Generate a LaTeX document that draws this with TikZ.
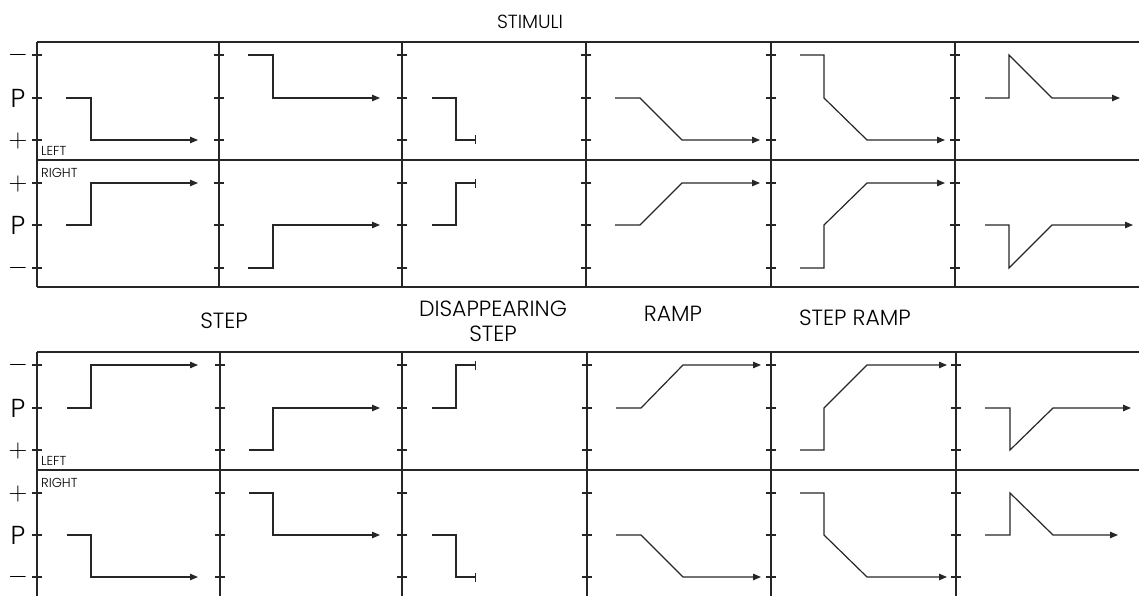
\documentclass[tikz,border=0pt]{standalone}
\usepackage{fix-cm}
\usepackage{fontspec}
\setmainfont{Poppins}[UprightFont=* Light]
\usetikzlibrary{arrows.meta}
\tikzset{
  grid/.style={line width=1.3pt, draw=black!85},
  tick/.style={line width=1.1pt, draw=black!85},
  sig/.style={line width=1.2pt, draw=black!85, line join=miter},
  arr/.style={sig, -{Triangle[length=8pt,width=6.5pt]}},
  barend/.style={sig, -{Bar[width=9pt]}},
  title/.style={inner sep=0pt, font=\fontsize{22}{22}\selectfont},
  axis/.style={inner sep=0pt, font=\fontsize{26}{28}\selectfont},
  side/.style={inner sep=0pt, anchor=west, font=\fontsize{13}{14}\selectfont}
}
\begin{document}
\begin{tikzpicture}[x=1pt,y=-1pt]
\useasboundingbox (0,0) rectangle (1139,596);
% ---------- top grid ----------
\foreach \yy in {42,160,287} \draw[grid] (37,\yy) -- (1139,\yy);
\foreach \xx in {37,219,402,586,771,955} {
  \draw[grid] (\xx,42) -- (\xx,287);
  \foreach \yy in {55,98,140,183,225,268} \draw[tick] (\xx-5,\yy) -- (\xx+5,\yy);
}
% ---------- bottom grid ----------
\foreach \yy in {352,470} \draw[grid] (37,\yy) -- (1139,\yy);
\foreach \xx in {37,220,402,587,771,956} {
  \draw[grid] (\xx,352) -- (\xx,596);
  \foreach \yy in {365,408,450,493,535,577} \draw[tick] (\xx-5,\yy) -- (\xx+5,\yy);
}
% ---------- titles ----------
\node[title, font=\fontsize{19}{21}\selectfont] (stim) at (530,22) {STIMULI};
\node[title] (tstep) at (224,321) {STEP};
\node[title, align=center, font=\fontsize{22}{25}\selectfont] (tdis) at (493,321) {DISAPPEARING\\STEP};
\node[title] (tramp) at (673,314) {RAMP};
\node[title] (tsramp) at (855,318) {STEP RAMP};
% ---------- axis labels ----------
\node[axis] (am1) at (18,55) {$-$};
\node[axis] (ap1) at (18,98) {P};
\node[axis] (apl1) at (18,141) {$+$};
\node[axis] (apl2) at (18,184) {$+$};
\node[axis] (ap2) at (18,225) {P};
\node[axis] (am2) at (18,268) {$-$};
\node[axis] (am3) at (18,365) {$-$};
\node[axis] (ap3) at (18,408) {P};
\node[axis] (apl3) at (18,451) {$+$};
\node[axis] (apl4) at (18,494) {$+$};
\node[axis] (ap4) at (18,535) {P};
\node[axis] (am4) at (18,577) {$-$};
\node[side] (left1) at (41,151) {LEFT};
\node[side] (right1) at (41,173) {RIGHT};
\node[side] (left2) at (41,461) {LEFT};
\node[side] (right2) at (41,483) {RIGHT};
% ---------- top grid signals ----------
\draw[arr] (66,98) -- (91,98) -- (91,140) -- (198,140);
\draw[arr] (66,225) -- (91,225) -- (91,183) -- (198,183);
\draw[arr] (248,55) -- (273,55) -- (273,98) -- (380,98);
\draw[arr] (248,268) -- (273,268) -- (273,225) -- (380,225);
\draw[barend] (432,98) -- (456,98) -- (456,140) -- (476,140);
\draw[barend] (432,225) -- (456,225) -- (456,183) -- (476,183);
\draw[arr] (615,98) -- (640,98) -- (682,140) -- (760,140);
\draw[arr] (615,225) -- (640,225) -- (682,183) -- (760,183);
\draw[arr] (800,55) -- (824,55) -- (824,98) -- (867,140) -- (945,140);
\draw[arr] (800,268) -- (824,268) -- (824,225) -- (867,183) -- (945,183);
\draw[arr] (985,98) -- (1009,98) -- (1009,55) -- (1052,98) -- (1120,98);
\draw[arr] (985,225) -- (1009,225) -- (1009,268) -- (1052,225) -- (1133,225);
% ---------- bottom grid signals ----------
\draw[arr] (67,408) -- (91,408) -- (91,365) -- (198,365);
\draw[arr] (67,535) -- (91,535) -- (91,577) -- (198,577);
\draw[arr] (249,450) -- (273,450) -- (273,408) -- (380,408);
\draw[arr] (249,493) -- (273,493) -- (273,535) -- (380,535);
\draw[barend] (432,408) -- (456,408) -- (456,365) -- (476,365);
\draw[barend] (432,535) -- (456,535) -- (456,577) -- (476,577);
\draw[arr] (616,408) -- (641,408) -- (683,365) -- (761,365);
\draw[arr] (616,535) -- (641,535) -- (683,577) -- (761,577);
\draw[arr] (800,450) -- (824,450) -- (824,408) -- (867,365) -- (947,365);
\draw[arr] (800,493) -- (824,493) -- (824,535) -- (867,577) -- (947,577);
\draw[arr] (985,408) -- (1010,408) -- (1010,450) -- (1053,408) -- (1131,408);
\draw[arr] (985,535) -- (1010,535) -- (1010,493) -- (1053,535) -- (1118,535);
\end{tikzpicture}
\end{document}
